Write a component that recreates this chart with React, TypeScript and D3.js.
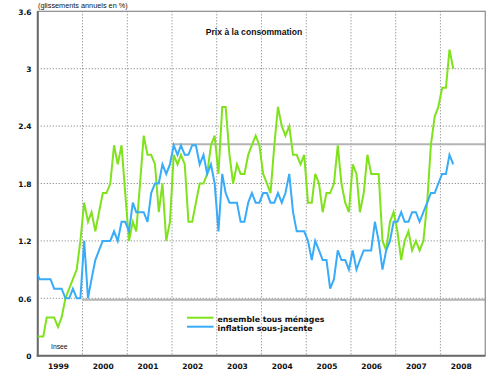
import React from "react";
import * as d3 from "d3";

// Monthly series, starting December 1998 (mid-month points)
const startMonth = new Date(1998, 11, 15);

const ensembleMenages: number[] = [
  0.2,
  // 1999
  0.2, 0.2, 0.4, 0.4, 0.4, 0.3, 0.4, 0.6, 0.7, 0.8, 0.9, 1.2,
  // 2000
  1.6, 1.4, 1.5, 1.3, 1.5, 1.7, 1.7, 1.8, 2.2, 2.0, 2.2, 1.7,
  // 2001
  1.2, 1.4, 1.3, 1.8, 2.3, 2.1, 2.1, 2.0, 1.5, 1.8, 1.2, 1.4,
  // 2002
  2.1, 2.0, 2.1, 2.0, 1.4, 1.4, 1.6, 1.8, 1.8, 1.9, 2.2, 2.3,
  // 2003
  1.9, 2.6, 2.6, 2.1, 1.8, 2.0, 1.9, 1.9, 2.1, 2.2, 2.3, 2.2,
  // 2004
  1.9, 1.8, 1.7, 2.2, 2.6, 2.4, 2.3, 2.4, 2.1, 2.1, 2.0, 2.1,
  // 2005
  1.6, 1.6, 1.9, 1.8, 1.5, 1.7, 1.7, 1.8, 2.2, 1.8, 1.6, 1.5,
  // 2006
  2.0, 1.9, 1.5, 1.7, 2.1, 1.9, 1.9, 1.9, 1.2, 1.1, 1.4, 1.5,
  // 2007
  1.3, 1.0, 1.2, 1.3, 1.1, 1.2, 1.1, 1.2, 1.6, 2.2, 2.5, 2.6,
  // 2008
  2.8, 2.8, 3.2, 3.0,
];

const inflationSousJacente: number[] = [
  0.9,
  // 1999
  0.8, 0.8, 0.8, 0.8, 0.7, 0.7, 0.7, 0.6, 0.6, 0.7, 0.6, 0.6,
  // 2000
  1.2, 0.6, 0.8, 1.0, 1.1, 1.2, 1.2, 1.2, 1.3, 1.2, 1.4, 1.4,
  // 2001
  1.3, 1.6, 1.5, 1.5, 1.5, 1.4, 1.7, 1.8, 1.8, 2.0, 1.9, 2.0,
  // 2002
  2.2, 2.1, 2.2, 2.1, 2.1, 2.2, 2.2, 2.0, 2.1, 1.9, 2.0, 1.8,
  // 2003
  1.3, 1.9, 1.7, 1.6, 1.6, 1.6, 1.4, 1.4, 1.6, 1.7, 1.6, 1.6,
  // 2004
  1.7, 1.7, 1.6, 1.6, 1.7, 1.6, 1.7, 1.9, 1.5, 1.3, 1.3, 1.3,
  // 2005
  1.2, 1.0, 1.2, 1.1, 1.0, 1.0, 0.7, 0.8, 1.1, 1.0, 1.0, 0.9,
  // 2006
  1.1, 0.9, 1.0, 1.1, 1.1, 1.1, 1.4, 1.2, 0.9, 1.1, 1.2, 1.4,
  // 2007
  1.4, 1.5, 1.4, 1.4, 1.5, 1.5, 1.4, 1.5, 1.6, 1.7, 1.7, 1.8,
  // 2008
  1.9, 1.9, 2.1, 2.0,
];

const yTicks: number[] = [0, 0.6, 1.2, 1.8, 2.4, 3, 3.6];
const yTickLabels: string[] = ["0", "0.6", "1.2", "1.8", "2.4", "3", "3.6"];
const years: number[] = [1999, 2000, 2001, 2002, 2003, 2004, 2005, 2006, 2007, 2008];
const refLevels: { value: number; from: Date }[] = [
  { value: 2.21, from: new Date(2002, 0, 1) },
  { value: 0.585, from: new Date(2000, 0, 1) },
];

const seriesNames: string[] = ["ensemble tous ménages", "inflation sous-jacente"];
const seriesColors: string[] = ["#7fe21c", "#38acf8"];

const W = 500;
const H = 375;
const left = 37.75;
const right = 485.25;
const top = 11.3;
const bottom = 355.7;

export default function App() {
  const x = d3
    .scaleTime()
    .domain([new Date(1999, 0, 1), new Date(2009, 0, 1)])
    .range([left, right]);
  const y = d3.scaleLinear().domain([0, 3.6]).range([bottom, top]);

  const dateAt = (i: number) => d3.timeMonth.offset(startMonth, i);
  const line = d3
    .line<number>()
    .x((_, i) => x(dateAt(i)))
    .y((d) => y(d));

  const series = [ensembleMenages, inflationSousJacente];
  const tickFont = "'DejaVu Sans', sans-serif";
  const textFont = "'Liberation Sans', Arial, sans-serif";

  return (
    <svg
      width={W}
      height={H}
      style={{ position: "absolute", left: 0, top: 0, display: "block", background: "#fff" }}
    >
      <defs>
        <clipPath id="plot">
          <rect x={left} y={top - 1} width={right - left} height={bottom - top + 1} />
        </clipPath>
      </defs>
      <rect x={0} y={0} width={W} height={H} fill="#fff" />

      {/* horizontal grid */}
      {yTicks
        .filter((v) => v > 0 && v < 3.6)
        .map((v) => (
          <line
            key={"hg" + v}
            x1={left}
            x2={right}
            y1={y(v)}
            y2={y(v)}
            stroke="#777"
            strokeWidth={1}
            strokeDasharray="1 2"
          />
        ))}
      {/* vertical grid */}
      {years.slice(1).map((yr) => (
        <line
          key={"vg" + yr}
          x1={x(new Date(yr, 0, 1))}
          x2={x(new Date(yr, 0, 1))}
          y1={top}
          y2={bottom}
          stroke="#777"
          strokeWidth={1}
          strokeDasharray="1 2"
        />
      ))}

      {/* reference levels */}
      {refLevels.map((r, i) => (
        <line
          key={"ref" + i}
          x1={x(r.from)}
          x2={right}
          y1={y(r.value)}
          y2={y(r.value)}
          stroke="#b4b4b4"
          strokeWidth={2}
        />
      ))}

      {/* frame */}
      <rect x={left} y={top} width={right - left} height={bottom - top} fill="none" stroke="#8a8a8a" strokeWidth={1.2} />
      <line x1={left} x2={left} y1={top} y2={bottom + 1} stroke="#6a6a6a" strokeWidth={2} />
      <line x1={left - 1} x2={right} y1={bottom} y2={bottom} stroke="#6a6a6a" strokeWidth={2} />

      {/* series */}
      <g clipPath="url(#plot)">
        {series.map((s, i) => (
          <path
            key={"s" + i}
            d={line(s) || ""}
            fill="none"
            stroke={seriesColors[i]}
            strokeWidth={2}
            strokeLinejoin="miter"
          />
        ))}
      </g>

      {/* y tick labels */}
      {yTicks.map((v, i) => (
        <text
          key={"yt" + v}
          x={31.5}
          y={y(v) + 3.2}
          textAnchor="end"
          fontFamily={tickFont}
          fontWeight="bold"
          fontSize={7.5}
          fill="#111"
        >
          {yTickLabels[i]}
        </text>
      ))}

      {/* year labels */}
      {years.map((yr) => (
        <text
          key={"yr" + yr}
          x={x(new Date(yr, 6, 1)) - 1.5}
          y={369}
          textAnchor="middle"
          fontFamily={tickFont}
          fontWeight="bold"
          fontSize={7.5}
          fill="#111"
        >
          {yr}
        </text>
      ))}

      {/* subtitle */}
      <text x={38} y={7.5} fontFamily={textFont} fontSize={7.3} fill="#111">
        (glissements annuels en %)
      </text>

      {/* title */}
      <text x={254} y={35} textAnchor="middle" fontFamily={textFont} fontWeight="bold" fontSize={8.6} fill="#111">
        Prix à la consommation
      </text>

      {/* source */}
      <text x={51} y={349} fontFamily={textFont} fontSize={6.8} fill="#111">
        Insee
      </text>

      {/* legend */}
      {seriesNames.map((name, i) => (
        <g key={"lg" + i}>
          <line
            x1={187}
            x2={213.5}
            y1={317.7 + i * 9}
            y2={317.7 + i * 9}
            stroke={seriesColors[i]}
            strokeWidth={2}
          />
          <text
            x={217.5}
            y={322.3 + i * 9}
            fontFamily={tickFont}
            fontWeight="bold"
            fontSize={7.8}
            fill="#111"
          >
            {name}
          </text>
        </g>
      ))}
    </svg>
  );
}
